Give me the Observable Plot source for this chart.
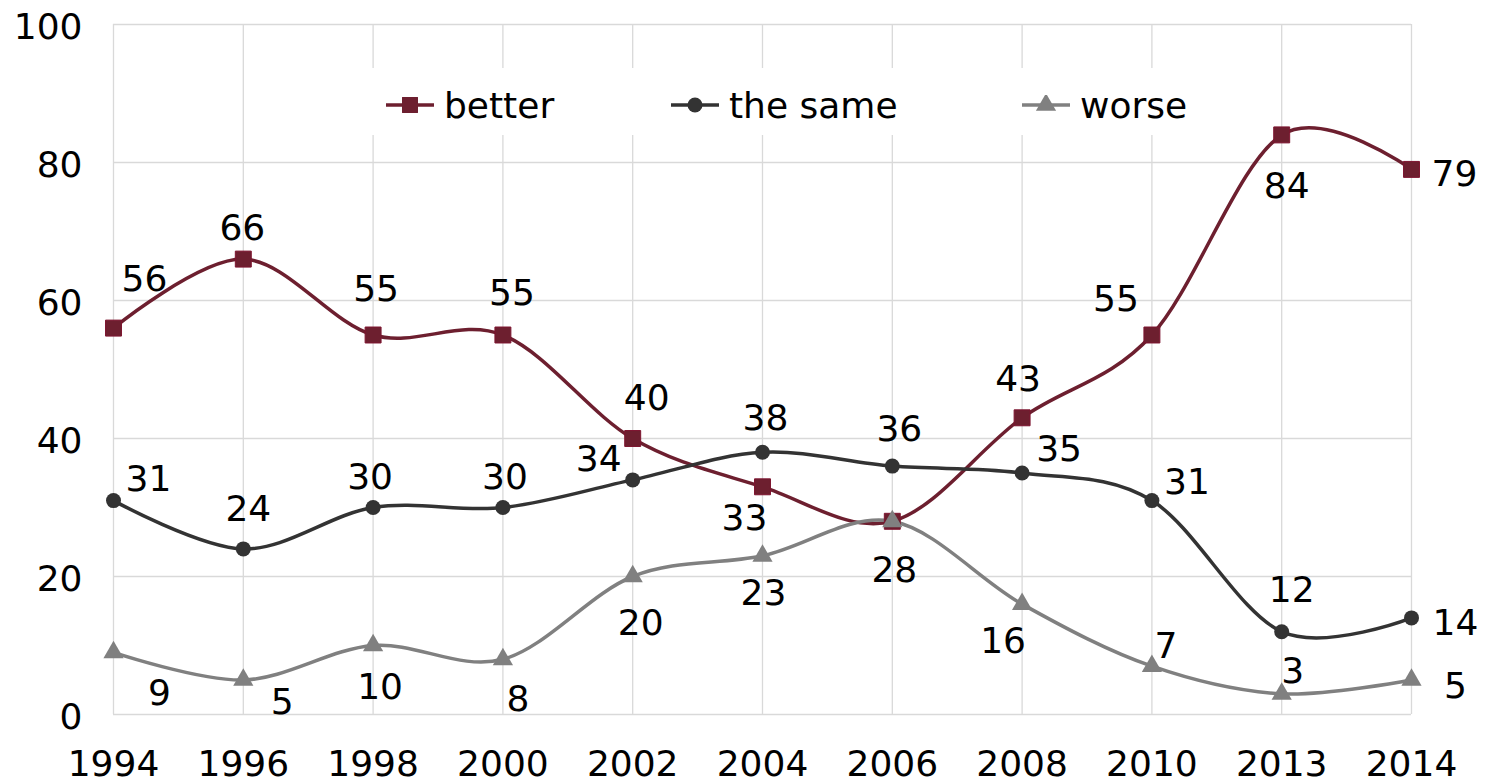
<!DOCTYPE html>
<html>
<head>
<meta charset="utf-8">
<script src="https://cdn.jsdelivr.net/npm/d3@7"></script>
<script src="https://cdn.jsdelivr.net/npm/@observablehq/plot@0.6"></script>
<style>
  html, body { margin: 0; padding: 0; background: #fff; }
  #wrap { position: relative; width: 1486px; height: 783px; font-family: "DejaVu Sans", Verdana, sans-serif; }
  .legend { position: absolute; left: 365px; top: 68px; width: 840px; height: 67px; background: #fff; }
  .item { position: absolute; top: 0; height: 74px; display: flex; align-items: center; font-size: 36px; color: #000; white-space: nowrap; }
  .item svg { margin-right: 10px; }
</style>
</head>
<body>
<div id="wrap"></div>
<script>
// ---- data ----
const years = ["1994", "1996", "1998", "2000", "2002", "2004", "2006", "2008", "2010", "2013", "2014"];
const better = [56, 66, 55, 55, 40, 33, 28, 43, 55, 84, 79];
const same   = [31, 24, 30, 30, 34, 38, 36, 35, 31, 12, 14];
const worse  = [9, 5, 10, 8, 20, 23, 28, 16, 7, 3, 5];
const seriesNames = ["better", "the same", "worse"];
const yTicks = [0, 20, 40, 60, 80, 100];

// ---- styling / label placement (not data) ----
const colors = ["#6d1f2f", "#333333", "#808080"];
const symbols = ["square", "circle", "triangle"];
const markerR = [9, 7.5, 7.5];
const betterLabelOffset = [[31,-51],[-1,-33],[3,-48],[9,-44],[14,-42],[-18,30],null,[-4,-40],[-36,-38],[5,50],[43,3]];
const sameLabelOffset   = [[35,-23],[5,-41],[-3,-32],[2,-32],[-34,-22],[3,-36],[7,-39],[37,-26],[35,-20],[10,-43],[44,4]];
const worseLabelOffset  = [[46,39],[39,20],[7,40],[15,38],[8,45],[1,36],[2,47],[-19,35],[14,-22],[11,-24],[44,4]];

const seriesValues = [better, same, worse];
const seriesOffsets = [betterLabelOffset, sameLabelOffset, worseLabelOffset];

const rows = seriesNames.flatMap((s, i) => years.map((yr, j) => ({series: s, year: yr, value: seriesValues[i][j], off: seriesOffsets[i][j]})));

const marks = [
  Plot.gridX(years, {stroke: "#d9d9d9", strokeOpacity: 1, strokeWidth: 1.3}),
  Plot.gridY(yTicks, {stroke: "#d9d9d9", strokeOpacity: 1, strokeWidth: 1.3}),
  Plot.axisX({tickSize: 0, tickPadding: 36, fill: "#000"}),
  Plot.axisY({ticks: yTicks, tickSize: 0, tickPadding: 31, dy: 3, fill: "#000"}),
];

seriesNames.forEach((s, i) => {
  const data = rows.filter(d => d.series === s);
  marks.push(Plot.line(data, {x: "year", y: "value", stroke: colors[i], strokeWidth: 3.5, curve: "cardinal"}));
});
seriesNames.forEach((s, i) => {
  const data = rows.filter(d => d.series === s);
  marks.push(Plot.dot(data, {x: "year", y: "value", symbol: () => symbols[i], fill: colors[i], stroke: i === 0 ? "#7e1530" : "none", strokeWidth: 1, r: markerR[i]}));
});
rows.filter(d => d.off).forEach(d => {
  marks.push(Plot.text([d], {x: "year", y: "value", text: d => String(d.value), dx: d.off[0], dy: d.off[1] + 2, fill: "#000", fontSize: 36}));
});

const chart = Plot.plot({
  width: 1486,
  height: 783,
  marginLeft: 113,
  marginRight: 75,
  marginTop: 24,
  marginBottom: 69,
  style: {fontFamily: "'DejaVu Sans', Verdana, sans-serif", fontSize: "36px", background: "#fff", overflow: "visible"},
  x: {type: "point", domain: years, padding: 0, round: false, label: null},
  y: {domain: [0, 100], label: null},
  symbol: {domain: symbols, range: symbols},
  marks
});

const wrap = document.getElementById("wrap");
wrap.appendChild(chart);

// ---- legend (HTML overlay inside plot area) ----
const legend = document.createElement("div");
legend.className = "legend";
const itemLeft = [21, 306, 657];
seriesNames.forEach((s, i) => {
  const item = document.createElement("div");
  item.className = "item";
  item.style.left = itemLeft[i] + "px";
  const ns = "http://www.w3.org/2000/svg";
  const sw = document.createElementNS(ns, "svg");
  sw.setAttribute("width", 48);
  sw.setAttribute("height", 20);
  const ln = document.createElementNS(ns, "line");
  ln.setAttribute("x1", 0); ln.setAttribute("x2", 48);
  ln.setAttribute("y1", 10); ln.setAttribute("y2", 10);
  ln.setAttribute("stroke", colors[i]); ln.setAttribute("stroke-width", 3.5);
  sw.appendChild(ln);
  const p = document.createElementNS(ns, "path");
  const symType = {square: d3.symbolSquare, circle: d3.symbolCircle, triangle: d3.symbolTriangle}[symbols[i]];
  p.setAttribute("d", d3.symbol(symType, Math.PI * markerR[i] * markerR[i])());
  p.setAttribute("transform", "translate(24,10)");
  p.setAttribute("fill", colors[i]);
  sw.appendChild(p);
  item.appendChild(sw);
  const t = document.createElement("span");
  t.textContent = s;
  item.appendChild(t);
  legend.appendChild(item);
});
wrap.appendChild(legend);
</script>
</body>
</html>
